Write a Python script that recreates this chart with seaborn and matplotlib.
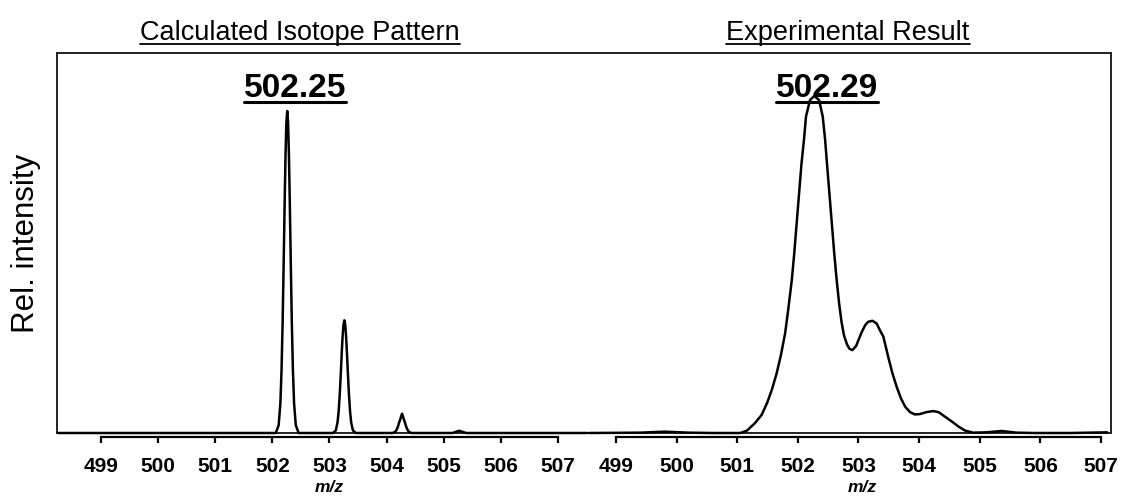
import numpy as np
import pandas as pd
import seaborn as sns
import matplotlib.pyplot as plt
from matplotlib.lines import Line2D
from matplotlib.transforms import IdentityTransform

# Calculated isotope pattern (relative intensity, main peak = 100)
calc_mz = [498.25,
           502.06, 502.11, 502.14, 502.16, 502.18, 502.20, 502.215, 502.23, 502.245, 502.26,
           502.275, 502.29, 502.305, 502.32, 502.34, 502.36, 502.38, 502.41, 502.46,
           503.06, 503.11, 503.14, 503.16, 503.18, 503.20, 503.215, 503.23, 503.245, 503.26,
           503.275, 503.29, 503.305, 503.32, 503.34, 503.36, 503.38, 503.41, 503.46,
           504.10, 504.15, 504.18, 504.20, 504.22, 504.24, 504.255, 504.27,
           504.285, 504.30, 504.32, 504.34, 504.36, 504.39, 504.44,
           505.15, 505.21, 505.27, 505.33, 505.39,
           507.50]
calc_int = [0,
            0, 2.4, 9.2, 19.2, 34.8, 55.2, 71.6, 86.2, 96.3, 100,
            96.3, 86.2, 71.6, 55.2, 34.8, 19.2, 9.2, 2.4, 0,
            0, 0.8, 3.2, 6.7, 12.2, 19.3, 25.1, 30.2, 33.7, 35.0,
            33.7, 30.2, 25.1, 19.3, 12.2, 6.7, 3.2, 0.8, 0,
            0, 0.3, 1.2, 2.1, 3.3, 4.3, 5.2, 6.0,
            5.2, 4.3, 3.3, 2.1, 1.2, 0.3, 0,
            0, 0.35, 0.7, 0.35, 0,
            0]

exp_mz = [498.55, 499.40, 499.80, 500.20, 500.60, 501.05, 501.16, 501.29, 501.40, 501.49,
          501.57, 501.65, 501.72, 501.79, 501.84, 501.90, 501.94, 501.98, 502.02, 502.06,
          502.10, 502.134, 502.20, 502.27, 502.35, 502.41, 502.45, 502.48, 502.52, 502.56,
          502.60, 502.64, 502.68, 502.72, 502.76, 502.81, 502.85, 502.90, 502.96, 503.00,
          503.05, 503.11, 503.16, 503.23, 503.30, 503.35, 503.41, 503.49, 503.56, 503.63,
          503.70, 503.77, 503.85, 503.93, 504.01, 504.12, 504.23, 504.32, 504.43, 504.54,
          504.65, 504.76, 504.89, 505.11, 505.36, 505.61, 505.90, 506.50, 507.10]
exp_int = [0, 0.1, 0.4, 0.1, 0, 0, 0.7, 2.9, 5.3, 8.8,
           12.8, 17.7, 23.1, 29.6, 36.5, 45.4, 53.3, 62.2, 71.1, 80.0,
           86.9, 93.9, 98.8, 100, 98.8, 93.9, 86.9, 80.0, 71.1, 62.2,
           53.3, 45.4, 38.5, 33.0, 29.0, 26.3, 25.0, 24.6, 25.8, 27.6,
           29.8, 32.0, 33.0, 33.3, 32.5, 30.6, 28.6, 22.6, 17.7, 13.7,
           10.3, 7.8, 6.2, 5.5, 5.6, 6.2, 6.5, 6.2, 4.8, 3.4,
           1.9, 0.7, 0.1, 0.2, 0.6, 0.1, 0, 0, 0.2]

ticks = list(range(499, 508))
titles = ["Calculated Isotope Pattern", "Experimental Result"]
peak_labels = ["502.25", "502.29"]

sns.set_style("white")
plt.rcParams["font.family"] = ["Liberation Sans", "DejaVu Sans"]
plt.rcParams["text.color"] = "black"
plt.rcParams["xtick.color"] = "black"

W, H = 1121, 496
fig = plt.figure(figsize=(W / 100, H / 100), dpi=100)

def fx(px):
    return px / W

def fy(py):
    return (H - py) / H

# outer frame
frame = fig.add_axes([fx(57), fy(433), fx(1111 - 57), (433 - 53) / H])
frame.set_xticks([])
frame.set_yticks([])
frame.patch.set_alpha(0)
for s in frame.spines.values():
    s.set_linewidth(1.4)
    s.set_color("#222222")

ax_l = fig.add_axes([fx(57), fy(433), fx(587 - 57), (433 - 53) / H])
ax_r = fig.add_axes([fx(587), fy(433), fx(1111 - 587), (433 - 53) / H])

df_calc = pd.DataFrame({"mz": calc_mz, "intensity": calc_int})
df_exp = pd.DataFrame({"mz": exp_mz, "intensity": exp_int})

sns.lineplot(data=df_calc, x="mz", y="intensity", ax=ax_l, color="black",
             linewidth=1.8, estimator=None, sort=False)
sns.lineplot(data=df_exp, x="mz", y="intensity", ax=ax_r, color="black",
             linewidth=1.8, estimator=None, sort=False)

ax_l.set_xlim(498.2298, 507.5077)
ax_l.set_ylim(0, 100 * 380 / 322)
ax_r.set_xlim(498.5217, 507.1650)
ax_r.set_ylim(0, 100 * 380 / 337)

for ax in (ax_l, ax_r):
    ax.patch.set_alpha(0)
    for line in ax.lines:
        line.set_clip_on(False)
        line.set_solid_joinstyle("round")
    for side in ("left", "right", "top"):
        ax.spines[side].set_visible(False)
    ax.spines["bottom"].set_position(("outward", 3))
    ax.spines["bottom"].set_bounds(499, 507)
    ax.spines["bottom"].set_linewidth(1.6)
    ax.spines["bottom"].set_color("black")
    ax.set_yticks([])
    ax.set_xticks(ticks)
    ax.set_xticklabels([str(t) for t in ticks], fontsize=15, fontweight="bold")
    ax.tick_params(axis="x", direction="out", length=4, width=1.6, pad=10,
                   bottom=True, color="black")
    ax.set_xlabel("")
    ax.set_ylabel("")

fig.text(fx(329.5), fy(487), "m/z", ha="center", va="center", fontsize=12.5,
         fontweight="bold", style="italic")
fig.text(fx(862), fy(487), "m/z", ha="center", va="center", fontsize=12.5,
         fontweight="bold", style="italic")

fig.text(fx(26), fy(243), "Rel. intensity", rotation=90, ha="center", va="center",
         fontsize=22.5)

t1 = fig.text(fx(300), fy(40), titles[0], ha="center", va="baseline", fontsize=19.5)
t2 = fig.text(fx(848), fy(40), titles[1], ha="center", va="baseline", fontsize=19.5)
p1 = fig.text(fx(295), fy(97), peak_labels[0], ha="center", va="baseline",
              fontsize=24, fontweight="bold")
p2 = fig.text(fx(827), fy(97), peak_labels[1], ha="center", va="baseline",
              fontsize=24, fontweight="bold")

# underline texts
fig.canvas.draw()
renderer = fig.canvas.get_renderer()
for t, lw, gap in ((t1, 1.3, 4), (t2, 1.3, 4), (p1, 2.2, 5), (p2, 2.2, 5)):
    bb = t.get_window_extent(renderer)
    base_y = fig.transFigure.transform(t.get_position())[1]
    fig.add_artist(Line2D([bb.x0, bb.x1], [base_y - gap, base_y - gap],
                          transform=IdentityTransform(), color="black", linewidth=lw))

fig.savefig("out.png", dpi=100)
